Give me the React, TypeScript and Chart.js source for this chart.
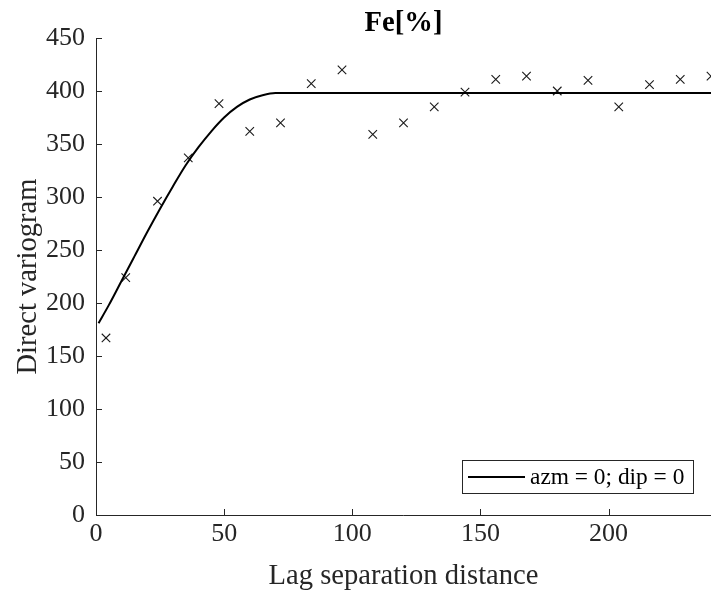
import React, { useEffect, useRef } from 'react';
import { Chart, registerables } from 'chart.js';

Chart.register(...registerables);

const TITLE = 'Fe[%]';
const X_TITLE = 'Lag separation distance';
const Y_TITLE = 'Direct variogram';
const LEGEND_LABEL = 'azm = 0; dip = 0';

// experimental variogram points (lag, value)
const lagDistances = [3.9, 11.6, 24, 36, 48, 60, 72, 84, 96, 108, 120, 132, 144, 156, 168, 180, 192, 204, 216, 228, 240];
const experimentalValues = [167, 224, 296, 337, 388, 362, 370, 407, 420, 359, 370, 385, 399, 411, 414, 400, 410, 385, 406, 411, 414];

// fitted model curve
const modelLags = [1, 5, 10, 15, 20, 25, 30, 35, 40, 45, 50, 55, 60, 65, 70, 240];
const modelValues = [181, 198, 221, 244, 267, 289, 310, 330, 347, 362, 375, 385, 392, 396, 398, 398];

const X_MIN = 0;
const X_MAX = 240;
const X_STEP = 50;
const Y_MIN = 0;
const Y_MAX = 450;
const Y_STEP = 50;

const FONT = "'Liberation Serif', 'Times New Roman', serif";
const AXIS_COLOR = '#262626';

export default function App() {
  const ref = useRef<HTMLCanvasElement | null>(null);

  useEffect(() => {
    const canvas = ref.current;
    if (!canvas) return;

    const decor = {
      id: 'decor',
      afterDraw(chart: any) {
        const ctx = chart.ctx;
        const { left, right, top, bottom } = chart.chartArea;
        const xs = chart.scales.x;
        const ys = chart.scales.y;
        ctx.save();
        // axes
        ctx.strokeStyle = AXIS_COLOR;
        ctx.lineWidth = 1;
        ctx.beginPath();
        ctx.moveTo(left + 0.5, top);
        ctx.lineTo(left + 0.5, bottom + 0.5);
        ctx.lineTo(right, bottom + 0.5);
        ctx.stroke();
        // inward ticks
        ctx.beginPath();
        xs.ticks.forEach((t: any) => {
          const px = Math.round(xs.getPixelForValue(t.value)) + 0.5;
          ctx.moveTo(px, bottom);
          ctx.lineTo(px, bottom - 6);
        });
        ys.ticks.forEach((t: any) => {
          const py = Math.round(ys.getPixelForValue(t.value)) + 0.5;
          ctx.moveTo(left, py);
          ctx.lineTo(left + 6, py);
        });
        ctx.stroke();

        const cx = (left + right) / 2;
        const cy = (top + bottom) / 2;
        // title
        ctx.fillStyle = '#000';
        ctx.font = `bold 28.6px ${FONT}`;
        ctx.textAlign = 'center';
        ctx.textBaseline = 'alphabetic';
        ctx.fillText(TITLE, cx, 31);
        // x title
        ctx.fillStyle = AXIS_COLOR;
        ctx.font = `28.6px ${FONT}`;
        ctx.fillText(X_TITLE, cx, 584);
        // y title
        ctx.save();
        ctx.translate(36, cy);
        ctx.rotate(-Math.PI / 2);
        ctx.fillText(Y_TITLE, 0, 0);
        ctx.restore();

        // legend
        const bx = right - 249;
        const by = bottom - 55;
        const bw = 231;
        const bh = 33;
        ctx.fillStyle = '#fff';
        ctx.fillRect(bx, by, bw, bh);
        ctx.strokeStyle = AXIS_COLOR;
        ctx.lineWidth = 1;
        ctx.strokeRect(Math.round(bx) + 0.5, Math.round(by) + 0.5, bw, bh);
        const ly = by + bh / 2 + 0.5;
        ctx.strokeStyle = '#000';
        ctx.lineWidth = 2;
        ctx.beginPath();
        ctx.moveTo(bx + 6, ly);
        ctx.lineTo(bx + 63, ly);
        ctx.stroke();
        ctx.fillStyle = '#000';
        ctx.font = `23.4px ${FONT}`;
        ctx.textAlign = 'left';
        ctx.textBaseline = 'middle';
        ctx.fillText(LEGEND_LABEL, bx + 68, ly + 1);
        ctx.restore();
      },
    };

    const chart = new Chart(canvas, {
      type: 'scatter',
      data: {
        datasets: [
          {
            type: 'line',
            label: LEGEND_LABEL,
            data: modelLags.map((x, i) => ({ x, y: modelValues[i] })),
            borderColor: '#000',
            backgroundColor: '#000',
            borderWidth: 2,
            pointRadius: 0,
            cubicInterpolationMode: 'monotone',
            fill: false,
          } as any,
          {
            type: 'scatter',
            label: 'experimental',
            data: lagDistances.map((x, i) => ({ x, y: experimentalValues[i] })),
            pointStyle: 'crossRot',
            pointRadius: 6,
            borderColor: '#1a1a1a',
            backgroundColor: '#1a1a1a',
            pointBorderWidth: 1.1,
            showLine: false,
          } as any,
        ],
      },
      options: {
        animation: false,
        responsive: false,
        devicePixelRatio: 1,
        layout: { autoPadding: false, padding: { top: 38, right: 0, left: 0, bottom: 0 } },
        plugins: {
          legend: { display: false },
          title: { display: false },
          tooltip: { enabled: false },
        },
        scales: {
          x: {
            type: 'linear',
            min: X_MIN,
            max: X_MAX,
            grid: { display: false, drawTicks: false },
            border: { display: false },
            ticks: {
              stepSize: X_STEP,
              includeBounds: false,
              color: AXIS_COLOR,
              font: { family: FONT, size: 26 },
              padding: 4,
              maxRotation: 0,
            },
            afterFit(scale: any) {
              scale.height = 77;
              scale.paddingLeft = 0;
              scale.paddingRight = 0;
            },
          },
          y: {
            type: 'linear',
            min: Y_MIN,
            max: Y_MAX,
            grid: { display: false, drawTicks: false },
            border: { display: false },
            ticks: {
              stepSize: Y_STEP,
              color: AXIS_COLOR,
              font: { family: FONT, size: 26 },
              padding: 11,
            },
            afterFit(scale: any) {
              scale.width = 96;
            },
          },
        },
      } as any,
      plugins: [decor],
    });

    return () => chart.destroy();
  }, []);

  return (
    <div style={{ position: 'absolute', left: 0, top: 0, width: 711, height: 592, background: '#fff' }}>
      <canvas ref={ref} width={711} height={592} style={{ display: 'block', width: 711, height: 592 }} />
    </div>
  );
}
